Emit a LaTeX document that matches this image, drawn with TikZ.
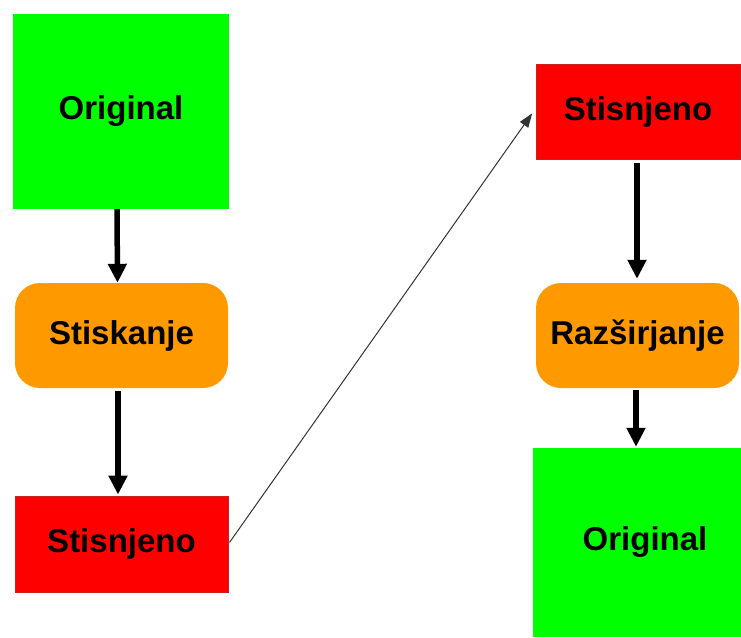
\documentclass[tikz,border=0pt]{standalone}
\usepackage{fontspec}
\setmainfont{Liberation Sans}
\usetikzlibrary{arrows.meta}
\definecolor{boxgreen}{RGB}{0,255,0}
\definecolor{boxorange}{RGB}{255,153,0}
\definecolor{boxred}{RGB}{255,0,0}
\definecolor{redrim}{RGB}{205,30,30}
\begin{document}
\begin{tikzpicture}[x=1pt,y=-1pt,
  every node/.style={inner sep=0pt, font=\fontsize{33}{40}\selectfont\bfseries, text=black},
  databox/.style={rectangle, fill=boxgreen},
  stepbox/.style={rectangle, rounded corners=25pt, fill=boxorange},
  packbox/.style={rectangle, fill=boxred, draw=redrim, line width=0.8pt},
  flow/.style={line width=5.5pt, -{Triangle[width=18pt,length=19pt]}},
  transfer/.style={line width=1pt, black!80, -{Triangle[width=10pt,length=14pt]}}]
  \useasboundingbox (0,0) rectangle (741,637);
  \clip (0,0) rectangle (741,637);
  \fill[white] (0,0) rectangle (741,637);

  % compression column
  \node[databox, minimum width=216pt, minimum height=195pt] (orig1) at (121,111.5) {Original};
  \node[stepbox, minimum width=213pt, minimum height=105pt] (comp) at (121.5,335.5) {Stiskanje};
  \node[packbox, minimum width=213pt, minimum height=96pt] (pack1) at (121.5,544) {Stisnjeno};

  % decompression column
  \node[packbox, minimum width=204pt, minimum height=95pt] (pack2) at (638,111.5) {Stisnjeno};
  \node[stepbox, minimum width=203pt, minimum height=105pt] (decomp) at (637.5,335.5) {Razširjanje};
  \node[databox, minimum width=224pt, minimum height=189pt] (orig2) at (645,542.5) {Original};

  % arrows
  \draw[flow] ([xshift=-4pt]orig1.south) -- ([xshift=-4pt]comp.north);
  \draw[flow, shorten <=3pt, shorten >=1pt] ([xshift=-3.5pt]comp.south) -- ([xshift=-3.5pt]pack1.north);
  \draw[flow, shorten <=4pt, shorten >=4pt] ([xshift=-1pt]pack2.south) -- ([xshift=-1pt]pack2.south |- decomp.north);
  \draw[flow, shorten <=2pt, shorten >=1pt] ([xshift=-1.5pt]decomp.south) -- ([xshift=-1.5pt]decomp.south |- orig2.north);
  \draw[transfer, shorten <=2pt, shorten >=6pt] (pack1.east) -- ([yshift=3pt]pack2.west);
\end{tikzpicture}
\end{document}
